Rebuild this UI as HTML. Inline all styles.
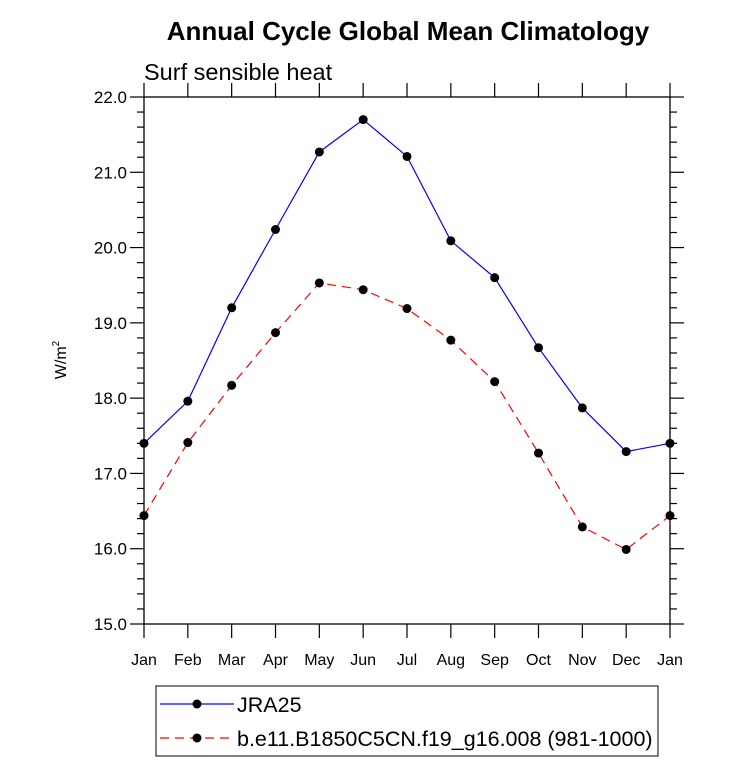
<!DOCTYPE html>
<html><head><meta charset="utf-8"><style>
body{margin:0;background:#fff;}
svg{display:block;font-family:"Liberation Sans",Helvetica,Arial,sans-serif;}
</style></head><body>
<svg id="chart" width="733" height="777" viewBox="0 0 733 777">
<text x="408" y="40" font-size="26" font-weight="bold" text-anchor="middle">Annual Cycle Global Mean Climatology</text>
<text x="144" y="80" font-size="23.5">Surf sensible heat</text>
<text transform="translate(66,360) rotate(-90)" font-size="16" text-anchor="middle">W/m<tspan font-size="10" dy="-7">2</tspan></text>
<g id="axes"></g>
<g id="series"></g>
<g>
<rect x="156" y="686" width="502" height="70" fill="none" stroke="#000" stroke-width="1"/>
<g>
<line x1="160" y1="704" x2="234" y2="704" stroke="#0000ff" stroke-width="1.2"/>
<circle cx="197" cy="704" r="4.5" fill="#000"/>
<text x="237" y="712" font-size="21.5">JRA25</text>
</g>
<g>
<line x1="160" y1="738" x2="234" y2="738" stroke="#ff0000" stroke-width="1.2" stroke-dasharray="9,6"/>
<circle cx="197" cy="738" r="4.5" fill="#000"/>
<text x="237" y="746" font-size="21.5">b.e11.B1850C5CN.f19_g16.008 (981-1000)</text>
</g>
</g>
</svg>
<script>
const months=["Jan","Feb","Mar","Apr","May","Jun","Jul","Aug","Sep","Oct","Nov","Dec","Jan"];
const jra25=[17.40,17.96,19.20,20.24,21.27,21.70,21.21,20.09,19.60,18.67,17.87,17.29,17.40];
const model=[16.44,17.41,18.17,18.87,19.53,19.44,19.19,18.77,18.22,17.27,16.29,15.99,16.44];
const yTicks=[15,16,17,18,19,20,21,22];
const NS="http://www.w3.org/2000/svg";
const L=144,R=670,T=97,B=624,yMin=15,yMax=22;
const xs=i=>L+(R-L)*i/(months.length-1);
const ys=v=>B-(B-T)*(v-yMin)/(yMax-yMin);
function mk(tag,attrs,parent){const e=document.createElementNS(NS,tag);for(const k in attrs)e.setAttribute(k,attrs[k]);parent.appendChild(e);return e;}
const ax=document.getElementById('axes');
const frame=mk('rect',{x:L,y:T,width:R-L,height:B-T,fill:'none',stroke:'#000','stroke-width':1.3},ax);


months.forEach((m,i)=>{
  const x=xs(i);
  mk('line',{x1:x,y1:B,x2:x,y2:B+14,stroke:'#000','stroke-width':1.2},ax);
  mk('line',{x1:x,y1:T,x2:x,y2:T-14,stroke:'#000','stroke-width':1.2},ax);
  const t=mk('text',{x:x,y:B+41,'font-size':16,'text-anchor':'middle'},ax);
  t.textContent=m;
  
  
});
for(let v=yMin;v<=yMax+1e-9;v+=0.2){
  const y=ys(v);const major=Math.abs(v-Math.round(v))<1e-6;const len=major?14:7;
  mk('line',{x1:L,y1:y,x2:L-len,y2:y,stroke:'#000','stroke-width':1.2},ax);
  mk('line',{x1:R,y1:y,x2:R+len,y2:y,stroke:'#000','stroke-width':1.2},ax);
}
yTicks.forEach(v=>{
  const t=mk('text',{x:L-17,y:ys(v)+6,'font-size':17,'text-anchor':'end'},ax);
  t.textContent=v.toFixed(1);
  
  
});
const sg=document.getElementById('series');
function drawSeries(vals,color,dash,name){
  const g=mk('g',{},sg);
  
  
  const p=mk('polyline',{points:vals.map((v,i)=>xs(i)+','+ys(v)).join(' '),fill:'none',stroke:color,'stroke-width':1.2},g);
  if(dash)p.setAttribute('stroke-dasharray',dash);
  vals.forEach((v,i)=>{
    const c=mk('circle',{cx:xs(i),cy:ys(v),r:4.5,fill:'#000'},g);
    
    
  });
}
drawSeries(jra25,'#0000ff',null,'series-jra25');
drawSeries(model,'#ff0000','9,6','series-model');
</script>
</body></html>
